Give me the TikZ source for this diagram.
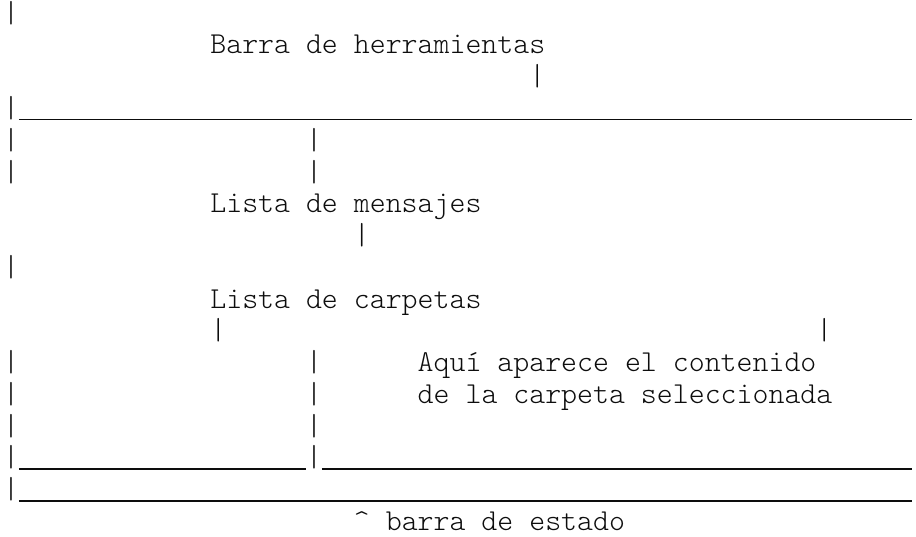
\documentclass[tikz,border=0pt]{standalone}
\usepackage{fontspec}
\usetikzlibrary{positioning}

\newfontfamily\asciimono{lmmonolt10-regular.otf}
\newcommand\asciifont{\asciimono\fontsize{30.38}{31.77}\selectfont}
\newcommand\underscores[1]{\rule[-2.9pt]{\dimexpr15.95pt*#1\relax}{1.7pt}}
\tikzset{
  ascii/.style={anchor=base west, inner sep=0pt, outer sep=0pt,
                font=\asciifont, text=black!95},
}

\begin{document}
\begin{tikzpicture}[x=15.95pt,y=-31.77pt]
  \useasboundingbox (0pt,0pt) rectangle (916pt,-536pt);
  \begin{scope}[shift={(3pt,-22.2pt)}]
    % toolbar
    \node[ascii] (top) at (0,0) {|};
    \node[ascii] (toolbar) at (13,1) {Barra de herramientas};
    \node[ascii] (toolbarTick) at (33,2) {|};
    \node[ascii] (toolbarLine) at (0,3) {|\underscores{56}};
    % message list
    \node[ascii] (leftA) at (0,4) {|};
    \node[ascii] (midA) at (19,4) {|};
    \node[ascii] (leftB) at (0,5) {|};
    \node[ascii] (midB) at (19,5) {|};
    \node[ascii] (messages) at (13,6) {Lista de mensajes};
    \node[ascii] (messagesTick) at (22,7) {|};
    \node[ascii] (leftC) at (0,8) {|};
    % folder list and content
    \node[ascii] (folders) at (13,9) {Lista de carpetas};
    \node[ascii] (foldersTick) at (13,10) {|};
    \node[ascii] (rightTick) at (51,10) {|};
    \node[ascii] (leftD) at (0,11) {|};
    \node[ascii] (midD) at (19,11) {|};
    \node[ascii] (contentA) at (26,11) {Aquí aparece el contenido};
    \node[ascii] (leftE) at (0,12) {|};
    \node[ascii] (midE) at (19,12) {|};
    \node[ascii] (contentB) at (26,12) {de la carpeta seleccionada};
    \node[ascii] (leftF) at (0,13) {|};
    \node[ascii] (midF) at (19,13) {|};
    \node[ascii] (panesLine) at (0,14) {|\underscores{18}|\underscores{37}};
    % status bar
    \node[ascii] (statusLine) at (0,15) {|\underscores{56}};
    \node[ascii] (status) at (22,16) {\textasciicircum\ barra de estado};
  \end{scope}
\end{tikzpicture}
\end{document}
